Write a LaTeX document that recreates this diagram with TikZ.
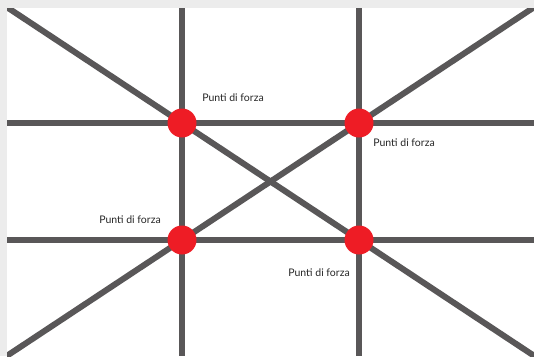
\documentclass[tikz,border=0pt]{standalone}
\usepackage{fontspec}
\setmainfont{Lato}
\definecolor{linegray}{HTML}{595758}
\definecolor{dotred}{HTML}{EE1C25}
\definecolor{edgegray}{HTML}{ECECEC}
\begin{document}
\begin{tikzpicture}[x=1pt,y=-1pt,
  gridline/.style={draw=linegray,line width=6pt},
  forcedot/.style={circle,fill=dotred,minimum size=29pt,inner sep=0pt},
  lbl/.style={font=\fontsize{10.5}{12}\selectfont,text=black!85,inner sep=0pt}]
\useasboundingbox (0,0) rectangle (534,356);
\fill[edgegray] (0,0) rectangle (534,356);
\fill[white] (7,8) rectangle (534,356);
% ends
\coordinate (v1t) at (182,8);   \coordinate (v1b) at (182,356);
\coordinate (v2t) at (359,8);   \coordinate (v2b) at (359,356);
\coordinate (h1l) at (7,123);   \coordinate (h1r) at (534,123);
\coordinate (h2l) at (7,240);   \coordinate (h2r) at (534,240);
\coordinate (d1a) at (-10,-4);  \coordinate (d1b) at (551,367);
\coordinate (d2a) at (-10,367); \coordinate (d2b) at (551,-4);
\begin{scope}
\clip (7,8) rectangle (534,356);
\draw[gridline] (v1t) -- (v1b);
\draw[gridline] (v2t) -- (v2b);
\draw[gridline] (h1l) -- (h1r);
\draw[gridline] (h2l) -- (h2r);
\draw[gridline] (d1a) -- (d1b);
\draw[gridline] (d2a) -- (d2b);
\end{scope}
\node[forcedot] (p1) at (182,123) {};
\node[forcedot] (p2) at (359,123) {};
\node[forcedot] (p3) at (182,240) {};
\node[forcedot] (p4) at (359,240) {};
\node[lbl] (l1) at (233,98) {Punti di forza};
\node[lbl] (l2) at (404,143) {Punti di forza};
\node[lbl] (l3) at (130,220) {Punti di forza};
\node[lbl] (l4) at (319,273) {Punti di forza};
\end{tikzpicture}
\end{document}
